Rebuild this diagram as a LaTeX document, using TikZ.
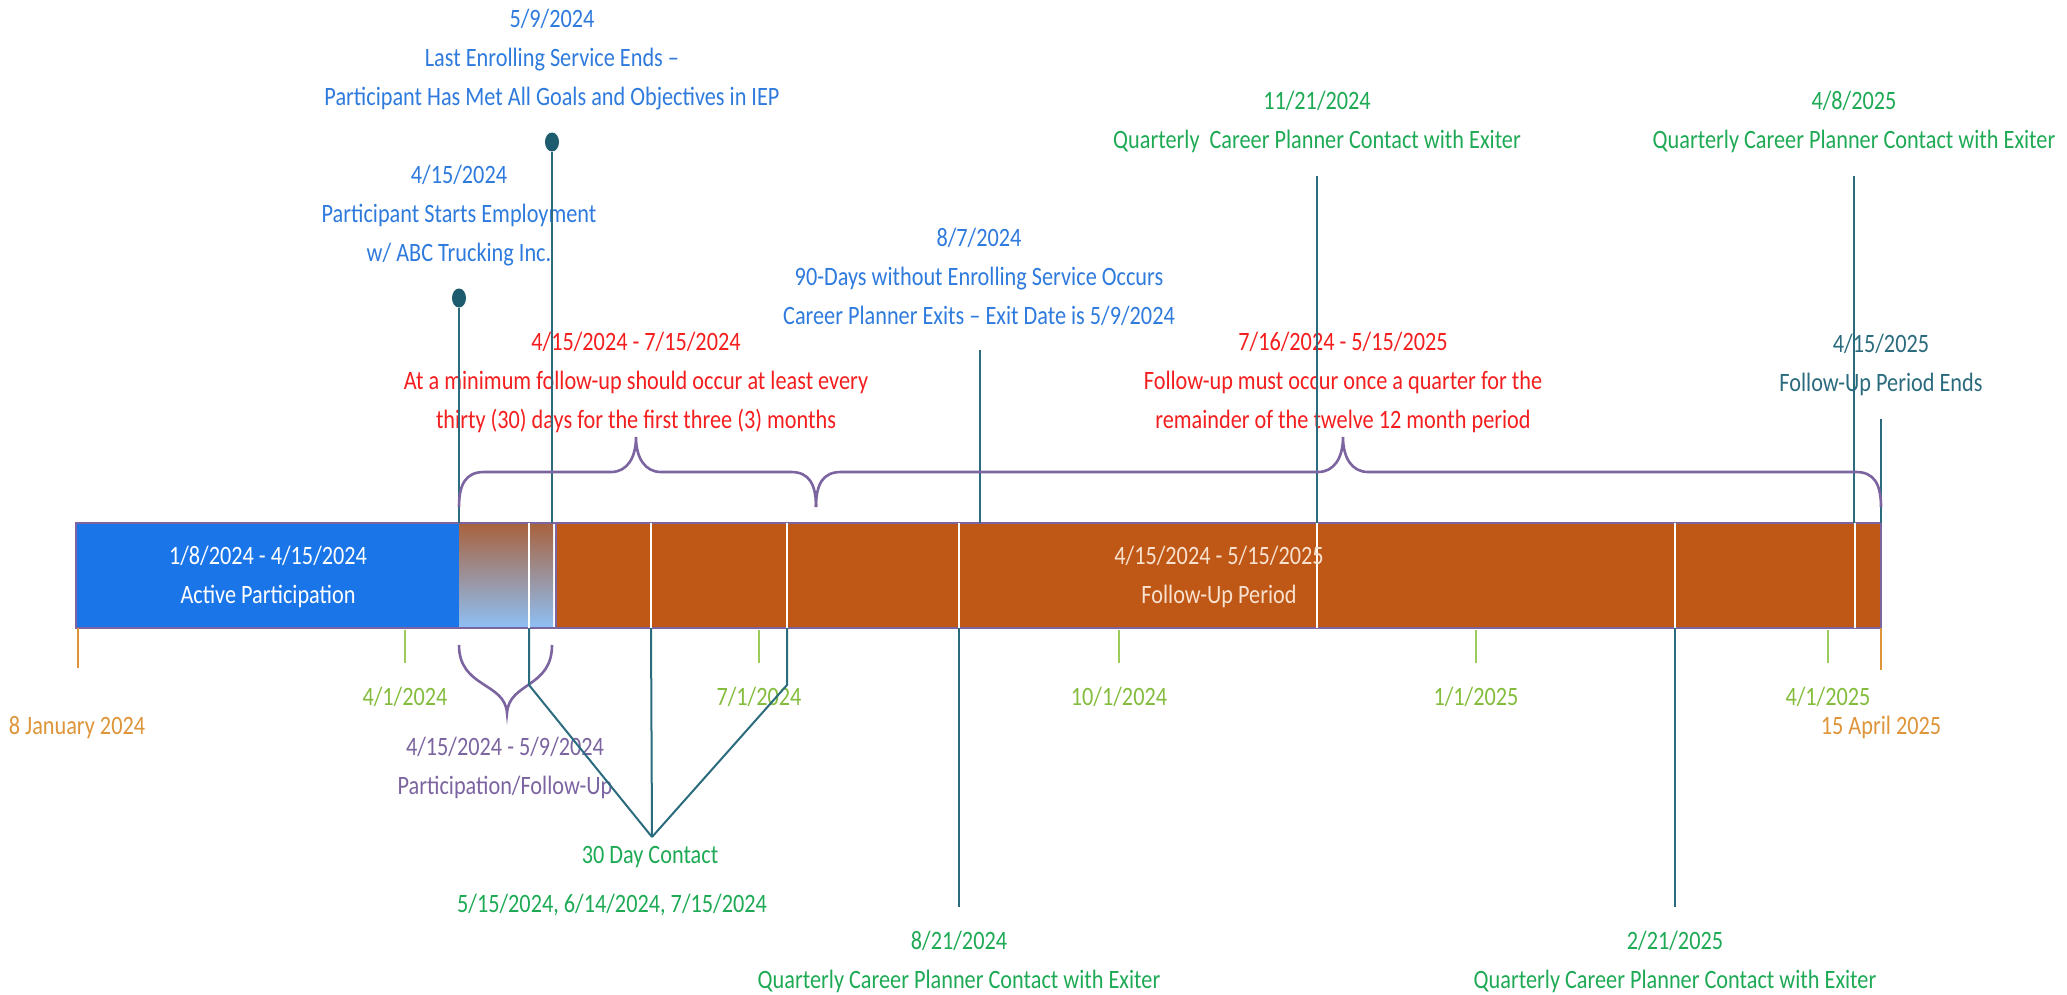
\documentclass[tikz,border=0pt]{standalone}
\usepackage{fontspec}
\setmainfont{Carlito}[FakeStretch=0.84]
\usepackage{tikz}
\usetikzlibrary{shapes.geometric}
\definecolor{tlblue}{HTML}{2F7BDD}
\definecolor{tlgreen}{HTML}{1EAA55}
\definecolor{tllime}{HTML}{84BD3E}
\definecolor{tltick}{HTML}{9CCB5C}
\definecolor{tlorange}{HTML}{DE9438}
\definecolor{tlred}{HTML}{F41E1E}
\definecolor{tlpurple}{HTML}{7B64A0}
\definecolor{tlteal}{HTML}{2B6B7E}
\definecolor{tldot}{HTML}{1D5B6E}
\definecolor{tlbar}{HTML}{1A76E8}
\definecolor{tlrust}{HTML}{BF5716}
\definecolor{tlcream}{HTML}{F8E2CF}
\definecolor{tlgradtop}{HTML}{A8623C}
\definecolor{tlgradmid}{HTML}{6690D2}
\definecolor{tlgradbot}{HTML}{8EC0F6}

\begin{document}
\begin{tikzpicture}[x=0.5pt,y=-0.5pt,font=\fontsize{13.25}{19.5}\selectfont,
 lbl/.style={align=center,inner sep=0pt},
 conn/.style={tlteal,line width=1pt},
 dot/.style={ellipse,fill=tldot,minimum width=7pt,minimum height=9.5pt,inner sep=0pt},
 tick/.style={tltick,line width=0.8pt},
 brc/.style={tlpurple,line width=1.3pt}]
\fill[white] (0,0) rectangle (2067,995);
\useasboundingbox (0,0) rectangle (2067,995);
% the bar
\fill[tlbar] (76,523) rectangle (459,628);
\shade[top color=tlgradtop,middle color=tlgradmid,bottom color=tlgradbot] (459,523) rectangle (553,628);
\fill[tlrust] (556,523) rectangle (1881,628);
\draw[tlpurple,line width=0.8pt] (556,523) -- (556,628);
\draw[tlpurple,line width=1pt] (76,523) rectangle (1881,628);
\foreach \x in {529,651,787,959,1317,1675,1855}
 \draw[white,line width=0.8pt] (\x,523) -- (\x,628);
\coordinate (bartop) at (0,523);
\coordinate (barbot) at (0,628);
\node[lbl,text=white] (ap) at (268,577) {1/8/2024 - 4/15/2024\\Active Participation};
\node[lbl,text=tlcream] (fu) at (1219,577) {4/15/2024 - 5/15/2025\\Follow-Up Period};
% date scale
\foreach \x/\d in {405/{4/1/2024},759/{7/1/2024},1119/{10/1/2024},1476/{1/1/2025},1828/{4/1/2025}} {
 \draw[tick] (\x,630) -- (\x,663);
 \node[lbl,text=tllime] (tk\x) at (\x,697) {\d};
}
\draw[tlorange,line width=0.8pt] (78,628) -- (78,668);
\draw[tlorange,line width=0.8pt] (1881,628) -- (1881,670);
\node[lbl,text=tlorange] (start) at (77,728) {8 January 2024};
\node[lbl,text=tlorange] (stop) at (1881,727) {15 April 2025};
% events above the bar
\node[lbl,text=tlblue] (t59) at (552,60) {5/9/2024\\Last Enrolling Service Ends --\\Participant Has Met All Goals and Objectives in IEP};
\node[lbl,text=tlblue] (t415) at (459,216) {4/15/2024\\Participant Starts Employment\\w/ ABC Trucking Inc.};
\node[lbl,text=tlblue] (t87) at (979,277) {8/7/2024\\90-Days without Enrolling Service Occurs\\Career Planner Exits -- Exit Date is 5/9/2024};
\node[lbl,text=tlgreen] (t1121) at (1317,122) {11/21/2024\\Quarterly\ \ Career Planner Contact with Exiter};
\node[lbl,text=tlgreen] (t48) at (1854,122) {4/8/2025\\Quarterly Career Planner Contact with Exiter};
\node[lbl,text=tlred] (r1) at (636,382) {4/15/2024 - 7/15/2024\\At a minimum follow-up should occur at least every\\thirty (30) days for the first three (3) months};
\node[lbl,text=tlred] (r2) at (1343,382) {7/16/2024 - 5/15/2025\\Follow-up must occur once a quarter for the\\remainder of the twelve 12 month period};
\node[lbl,text=tlteal] (t415b) at (1881,365) {4/15/2025\\Follow-Up Period Ends};
\node[dot] (d59) at (552,142) {};
\node[dot] (d415) at (459,298) {};
\coordinate (c87) at (980,350);
\coordinate (c1121) at (1317,176);
\coordinate (c48) at (1854,176);
\coordinate (c415) at (1881,419);
\draw[conn] (d59) -- (d59 |- bartop);
\draw[conn] (d415) -- (d415 |- bartop);
\draw[conn] (c87) -- (c87 |- bartop);
\draw[conn] (c1121) -- (c1121 |- bartop);
\draw[conn] (c48) -- (c48 |- bartop);
\draw[conn] (c415) -- (c415 |- bartop);
% braces
\draw[brc] (459,507) .. controls (459,484) and (466,472) .. (484,472) -- (611,472)
 .. controls (627,472) and (636,458) .. (636,437) .. controls (636,458) and (645,472) .. (661,472)
 -- (791,472) .. controls (809,472) and (816,484) .. (816,507);
\draw[brc] (816,507) .. controls (816,484) and (823,472) .. (841,472) -- (1318,472)
 .. controls (1334,472) and (1343,458) .. (1343,437) .. controls (1343,458) and (1352,472) .. (1368,472)
 -- (1856,472) .. controls (1874,472) and (1881,484) .. (1881,507);
\draw[brc] (459,645) .. controls (459,688) and (505,682) .. (507,713)
 .. controls (509,682) and (552,688) .. (552,645);
\node[lbl,text=tlpurple] (pf) at (505,768) {4/15/2024 - 5/9/2024\\Participation/Follow-Up};
% contacts below the bar
\node[lbl,text=tlgreen] (c30) at (650,857) {30 Day Contact};
\node[lbl,text=tlgreen] (c30d) at (612,905) {5/15/2024, 6/14/2024, 7/15/2024};
\coordinate (apex) at (652,837);
\coordinate (k1) at (529,685);
\coordinate (k2) at (651,685);
\coordinate (k3) at (787,685);
\draw[conn] (k1 |- barbot) -- (k1) -- (apex);
\draw[conn] (k2 |- barbot) -- (apex);
\draw[conn] (k3 |- barbot) -- (k3) -- (apex);
\node[lbl,text=tlgreen] (q821) at (959,962) {8/21/2024\\Quarterly Career Planner Contact with Exiter};
\node[lbl,text=tlgreen] (q221) at (1675,962) {2/21/2025\\Quarterly Career Planner Contact with Exiter};
\coordinate (e821) at (959,907);
\coordinate (e221) at (1675,907);
\draw[conn] (e821 |- barbot) -- (e821);
\draw[conn] (e221 |- barbot) -- (e221);
\end{tikzpicture}
\end{document}
